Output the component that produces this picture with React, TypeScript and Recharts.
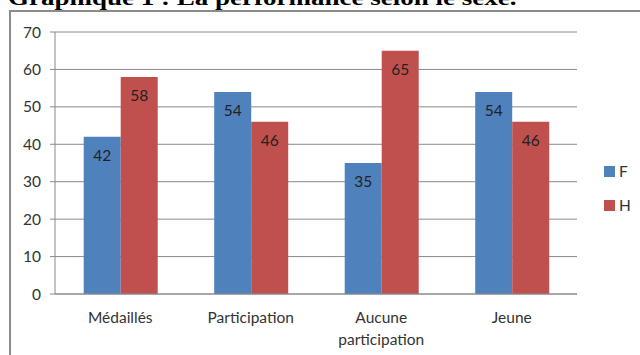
import React from 'react';
import { BarChart, Bar, XAxis, YAxis, CartesianGrid, Legend, LabelList, Text } from 'recharts';

const categories = ['Médaillés', 'Participation', 'Aucune participation', 'Jeune'];
const femmes = [42, 54, 35, 54];
const hommes = [58, 46, 65, 46];
const yTicks = [0, 10, 20, 30, 40, 50, 60, 70];
const edgeTicks = [0, 1, 2, 3, 4];

const data = categories.map((name, i) => ({ name, F: femmes[i], H: hommes[i] }));

const BLUE = '#4F81BD';
const RED = '#C0504D';
const GRID = '#8a8a8a';
const FONT = 'Lato, "Open Sans", sans-serif';
const FS = 15.5;

const CategoryTick = (props: any) => {
  const { x, y, payload } = props;
  return (
    <Text
      x={x}
      y={y}
      width={110}
      textAnchor="middle"
      verticalAnchor="start"
      lineHeight="1.4em"
      fontSize={FS}
      fontFamily={FONT}
      fill="#333"
    >
      {payload.value}
    </Text>
  );
};

const LegendBox = () => (
  <div style={{ fontFamily: FONT, fontSize: FS, color: '#333' }}>
    {[
      { label: 'F', color: BLUE },
      { label: 'H', color: RED },
    ].map((it) => (
      <div key={it.label} style={{ display: 'flex', alignItems: 'center', height: 34 }}>
        <span style={{ width: 11, height: 11, background: it.color, marginRight: 4, display: 'inline-block' }} />
        <span>{it.label}</span>
      </div>
    ))}
  </div>
);

export default function App() {
  return (
    <div style={{ position: 'absolute', left: 0, top: 0, width: 640, height: 355, overflow: 'hidden', background: '#fff' }}>
      <div
        style={{
          position: 'absolute',
          left: 8,
          top: -12,
          fontFamily: '"Liberation Serif", "Times New Roman", serif',
          fontWeight: 'bold',
          fontSize: 20,
          lineHeight: '20px',
          whiteSpace: 'nowrap',
          color: '#000',
          transform: 'scaleX(1.35)',
          transformOrigin: 'left top',
        }}
      >
        Graphique 1 : La performance selon le sexe.
      </div>
      <div
        style={{
          position: 'absolute',
          left: 9,
          top: 10,
          width: 700,
          height: 400,
          borderLeft: '2px solid #8c8c8c',
          borderTop: '2px solid #8c8c8c',
        }}
      />
      <div style={{ position: 'absolute', left: 0, top: 0 }}>
        <BarChart
          width={640}
          height={355}
          data={data}
          margin={{ top: 32, right: 27, bottom: 21, left: 0 }}
          barCategoryGap="22%"
          barGap={0}
        >
          <CartesianGrid vertical={false} stroke={GRID} />
          <XAxis
            xAxisId="edges"
            type="number"
            domain={[0, 4]}
            ticks={edgeTicks}
            tick={false}
            axisLine={false}
            tickLine={{ stroke: GRID }}
            tickSize={5}
            height={0}
          />
          <XAxis
            dataKey="name"
            height={40}
            axisLine={{ stroke: GRID }}
            tickLine={false}
            tickSize={0}
            tickMargin={18}
            interval={0}
            tick={<CategoryTick />}
          />
          <YAxis
            width={55}
            domain={[0, 70]}
            ticks={yTicks}
            axisLine={{ stroke: GRID }}
            tickLine={{ stroke: GRID }}
            tickSize={5}
            tickMargin={9}
            tick={{ fontSize: FS, fontFamily: FONT, fill: '#333' }}
          />
          <Legend
            layout="horizontal"
            verticalAlign="middle"
            align="right"
            content={<LegendBox />}
            wrapperStyle={{ left: 604, top: 154, width: 36 }}
          />
          <Bar dataKey="F" name="F" fill={BLUE} isAnimationActive={false}>
            <LabelList dataKey="F" position="insideTop" offset={13} fill="#222" fontSize={FS} fontFamily={FONT} />
          </Bar>
          <Bar dataKey="H" name="H" fill={RED} isAnimationActive={false}>
            <LabelList dataKey="H" position="insideTop" offset={13} fill="#222" fontSize={FS} fontFamily={FONT} />
          </Bar>
        </BarChart>
      </div>
    </div>
  );
}
